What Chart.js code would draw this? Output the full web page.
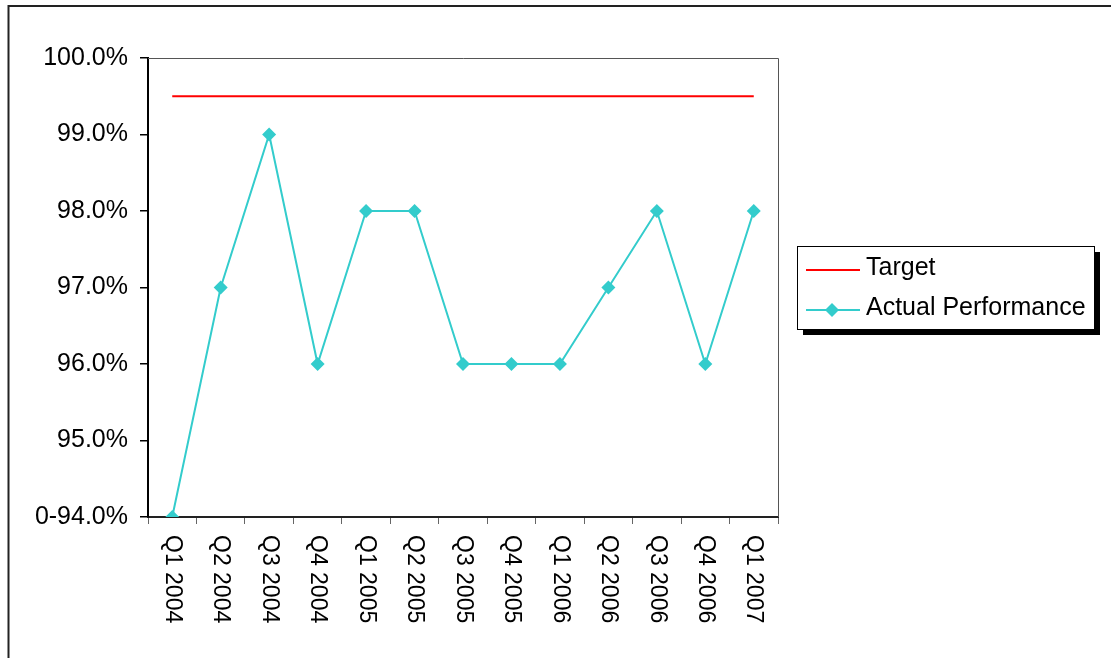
<!DOCTYPE html>
<html>
<head>
<meta charset="utf-8">
<script src="https://cdn.jsdelivr.net/npm/chart.js@4/dist/chart.umd.min.js"></script>
<style>
  html, body { margin: 0; padding: 0; background: #fff; }
  canvas { display: block; }
</style>
</head>
<body>
<canvas id="chart" width="1111" height="658"></canvas>
<script>
// Quarterly performance against the target level
const quarters = ['Q1 2004', 'Q2 2004', 'Q3 2004', 'Q4 2004', 'Q1 2005', 'Q2 2005', 'Q3 2005',
                  'Q4 2005', 'Q1 2006', 'Q2 2006', 'Q3 2006', 'Q4 2006', 'Q1 2007'];
const targetValues = [99.5, 99.5, 99.5, 99.5, 99.5, 99.5, 99.5, 99.5, 99.5, 99.5, 99.5, 99.5, 99.5];
const actualValues = [94, 97, 99, 96, 98, 98, 96, 96, 96, 97, 98, 96, 98];
const yTickValues = [94, 95, 96, 97, 98, 99, 100];
const yTickLabels = ['0-94.0%', '95.0%', '96.0%', '97.0%', '98.0%', '99.0%', '100.0%'];

const FONT = "'Liberation Sans', Arial, sans-serif";
const TEAL = '#33CCCC';
const RED = '#FF0000';

// Frame, plot border, vertical category labels and the shadowed legend
const decorations = {
  id: 'decorations',
  beforeDatasetsDraw(chart) {
    const { ctx, chartArea: a } = chart;
    ctx.save();
    ctx.strokeStyle = '#555';
    ctx.lineWidth = 1;
    ctx.beginPath();
    ctx.moveTo(a.left, a.top + 0.5);
    ctx.lineTo(a.right + 0.5, a.top + 0.5);
    ctx.lineTo(a.right + 0.5, a.bottom);
    ctx.stroke();
    ctx.restore();
  },
  afterDraw(chart) {
    const { ctx } = chart;
    const xScale = chart.scales.x;
    ctx.save();

    // outer chart frame
    ctx.strokeStyle = '#222';
    ctx.lineWidth = 2;
    ctx.beginPath();
    ctx.moveTo(8.5, 700);
    ctx.lineTo(8.5, 6);
    ctx.lineTo(1200, 6);
    ctx.stroke();

    // category labels reading top to bottom
    ctx.fillStyle = '#000';
    ctx.font = '23px ' + FONT;
    ctx.textAlign = 'left';
    ctx.textBaseline = 'middle';
    quarters.forEach((q, i) => {
      const x = xScale.getPixelForValue(i);
      ctx.save();
      ctx.translate(x, 535);
      ctx.rotate(Math.PI / 2);
      ctx.fillText(q, 0, 0);
      ctx.restore();
    });

    // legend box with drop shadow
    const lx = 797, ly = 246, lw = 297, lh = 83;
    ctx.fillStyle = '#000';
    ctx.fillRect(lx + 6, ly + 6, lw, lh);
    ctx.fillStyle = '#fff';
    ctx.fillRect(lx, ly, lw, lh);
    ctx.strokeStyle = '#000';
    ctx.lineWidth = 1;
    ctx.strokeRect(lx + 0.5, ly + 0.5, lw, lh);

    const items = [
      { label: chart.data.datasets[0].label, color: RED, y: 270, marker: false },
      { label: chart.data.datasets[1].label, color: TEAL, y: 310, marker: true }
    ];
    items.forEach(it => {
      ctx.strokeStyle = it.color;
      ctx.lineWidth = 2;
      ctx.beginPath();
      ctx.moveTo(806, it.y);
      ctx.lineTo(860, it.y);
      ctx.stroke();
      if (it.marker) {
        ctx.fillStyle = it.color;
        ctx.beginPath();
        ctx.moveTo(832, it.y - 7);
        ctx.lineTo(839, it.y);
        ctx.lineTo(832, it.y + 7);
        ctx.lineTo(825, it.y);
        ctx.closePath();
        ctx.fill();
      }
      ctx.fillStyle = '#000';
      ctx.font = '25px ' + FONT;
      ctx.textAlign = 'left';
      ctx.textBaseline = 'middle';
      ctx.fillText(it.label, 866, it.y - 2);
    });
    ctx.restore();
  }
};

new Chart(document.getElementById('chart'), {
  type: 'line',
  data: {
    labels: quarters,
    datasets: [
      {
        label: 'Target',
        data: targetValues,
        borderColor: RED,
        borderWidth: 2,
        pointRadius: 0,
        pointHoverRadius: 0,
        tension: 0
      },
      {
        label: 'Actual Performance',
        data: actualValues,
        borderColor: TEAL,
        backgroundColor: TEAL,
        borderWidth: 2,
        pointStyle: 'rectRot',
        pointRadius: 7,
        pointBorderWidth: 0,
        pointBackgroundColor: TEAL,
        tension: 0
      }
    ]
  },
  options: {
    responsive: false,
    animation: false,
    devicePixelRatio: 1,
    layout: { padding: { left: 0, top: 58, right: 333, bottom: 0 } },
    plugins: {
      legend: { display: false },
      tooltip: { enabled: false }
    },
    scales: {
      x: {
        type: 'category',
        offset: true,
        grid: {
          offset: true,
          drawOnChartArea: false,
          drawTicks: true,
          tickLength: 7,
          color: '#666',
          lineWidth: 1
        },
        border: { display: true, color: '#222', width: 2 },
        ticks: { display: false },
        afterFit(scale) { scale.height = 141; }
      },
      y: {
        min: 94,
        max: 100,
        afterBuildTicks(scale) {
          scale.ticks = yTickValues.map(v => ({ value: v }));
        },
        grid: {
          drawOnChartArea: false,
          drawTicks: true,
          tickLength: 8,
          color: '#000',
          lineWidth: 1.5
        },
        border: { display: true, color: '#000', width: 2 },
        ticks: {
          color: '#000',
          font: { family: FONT, size: 25 },
          padding: 12,
          callback(value) {
            const i = yTickValues.indexOf(value);
            return i >= 0 ? yTickLabels[i] : '';
          }
        },
        afterFit(scale) { scale.width = 148; }
      }
    }
  },
  plugins: [decorations]
});
</script>
</body>
</html>
